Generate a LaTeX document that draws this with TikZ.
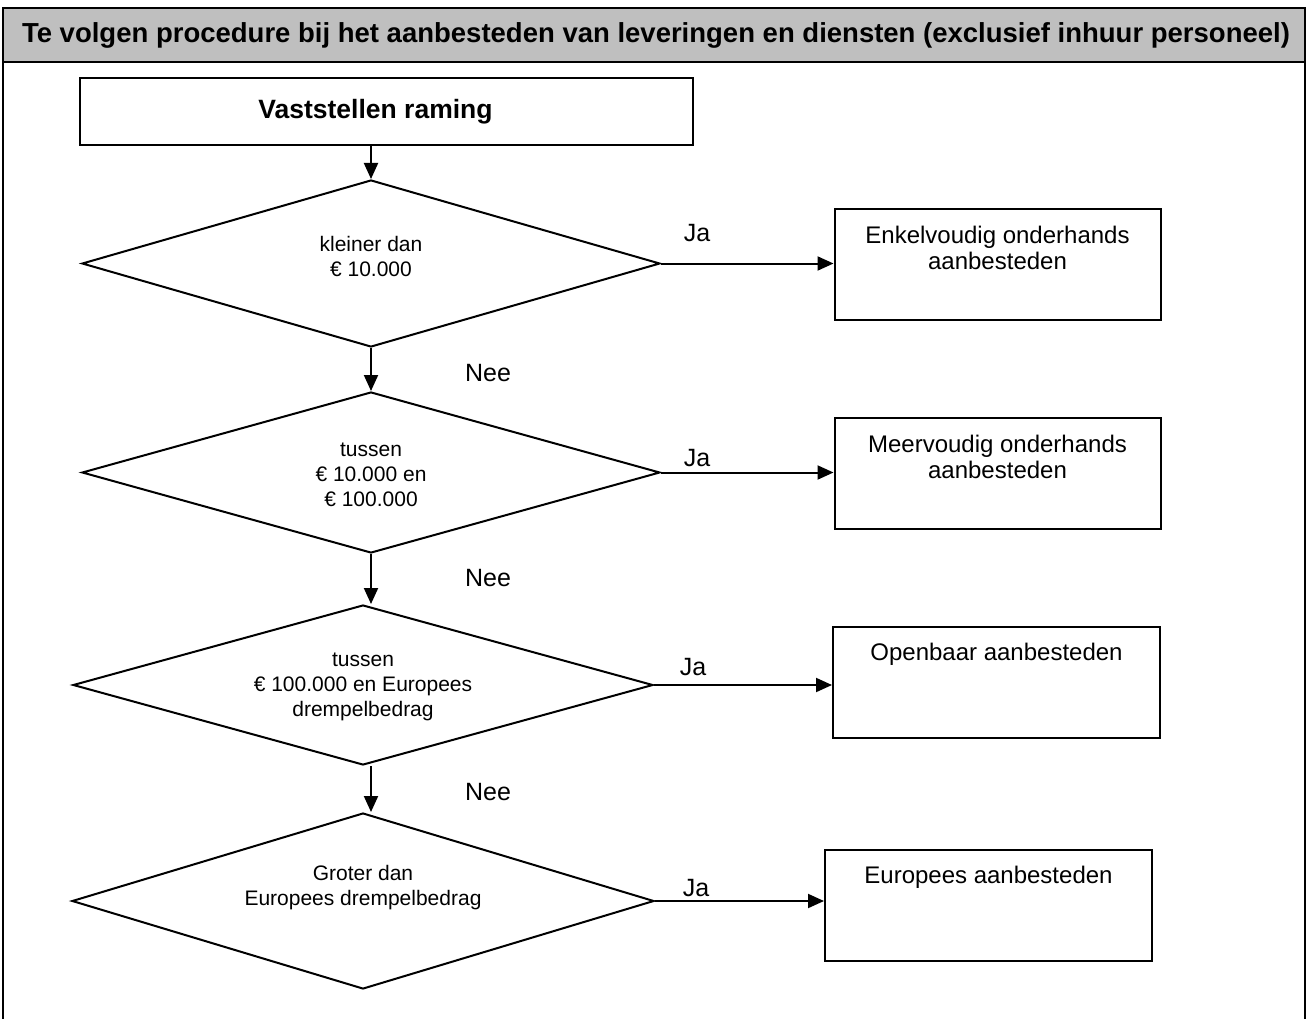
\documentclass[tikz,border=0pt]{standalone}
\usepackage{fontspec}
\setmainfont{Liberation Sans}
\usetikzlibrary{arrows.meta,positioning,shapes.geometric}

\tikzset{
  flowbox/.style={draw, line width=2pt, minimum width=326pt, minimum height=111pt, inner sep=0pt},
  decision/.style={diamond, draw, line width=2pt, inner sep=0pt, aspect=3.5,
    minimum width=578pt, minimum height=166pt},
  decisiontext/.style={align=center, inner sep=0pt, font=\fontsize{21}{25}\selectfont},
  boxtext/.style={align=center, inner sep=0pt, font=\fontsize{24}{26}\selectfont},
  answer/.style={inner sep=0pt, font=\fontsize{25}{28}\selectfont},
  flow/.style={line width=2pt, -{Triangle[length=16pt,width=14pt]}},
}

\begin{document}
\begin{tikzpicture}[x=1pt,y=-1pt]
  \useasboundingbox (0,0) rectangle (1308,1019);

  % frame and title bar
  \draw[line width=2pt] (3,8) -- (3,1019);
  \draw[line width=2pt] (1305,8) -- (1305,1019);
  \draw[line width=2pt, fill=gray!50] (3,8) rectangle (1305,62);
  \node[font=\bfseries\fontsize{27.5}{30}\selectfont] (title) at (656,35)
    {Te volgen procedure bij het aanbesteden van leveringen en diensten (exclusief inhuur personeel)};

  % start
  \node[draw, line width=2pt, minimum width=613pt, minimum height=67pt,
    font=\bfseries\fontsize{26.5}{28}\selectfont] (raming) at (386.5,111.5)
    {\hspace*{-22pt}Vaststellen raming};

  % decisions
  \node[decision, minimum height=167pt] (d1) at (371,263.5) {};
  \node[decision, minimum height=161pt] (d2) at (371,472.5) {};
  \node[decision, minimum height=160pt, minimum width=580pt] (d3) at (363,685) {};
  \node[decision, minimum height=176pt, minimum width=582pt] (d4) at (363,901) {};
  \node[decisiontext] (q1) at ([yshift=7pt]d1.center) {kleiner dan\\€ 10.000};
  \node[decisiontext] (q2) at ([yshift=-2pt]d2.center) {tussen\\€ 10.000 en\\€ 100.000};
  \node[decisiontext] (q3) at ([yshift=-2pt]d3.center) {tussen\\€ 100.000 en Europees\\drempelbedrag};
  \node[decisiontext] (q4) at ([yshift=13pt]d4.center) {Groter dan\\Europees drempelbedrag};

  % outcomes
  \node[flowbox] (b1) at (997.5,264) {};
  \node[flowbox] (b2) at (997.5,473.5) {};
  \node[flowbox, minimum width=327pt] (b3) at (996.5,682.5) {};
  \node[flowbox, minimum width=327pt] (b4) at (988.5,905.5) {};
  \node[boxtext, below=18pt] (t1) at (b1.north) {Enkelvoudig onderhands\\aanbesteden};
  \node[boxtext, below=18pt] (t2) at (b2.north) {Meervoudig onderhands\\aanbesteden};
  \node[boxtext, below=17pt] (t3) at (b3.north) {Openbaar aanbesteden};
  \node[boxtext, below=17pt] (t4) at (b4.north) {Europees aanbesteden};

  % connectors
  \draw[flow] (raming.south -| d1.north) -- (d1.north);
  \draw[flow] (d1.south) -- (d2.north);
  \draw[flow] (d2.south) -- (d2.south |- d3.north);
  \draw[flow] (d2.south |- d3.south) -- (d2.south |- d4.north);
  \draw[flow] (d1.east) -- (d1.east -| b1.west);
  \draw[flow] (d2.east) -- (d2.east -| b2.west);
  \draw[flow] (d3.east) -- (d3.east -| b3.west);
  \draw[flow] (d4.east) -- (d4.east -| b4.west);

  % labels
  \node[answer] (ja1) at (697,233) {Ja};
  \node[answer] (ja2) at (697,458) {Ja};
  \node[answer] (ja3) at (693,667) {Ja};
  \node[answer] (ja4) at (696,888) {Ja};
  \node[answer] (nee1) at (488,373) {Nee};
  \node[answer] (nee2) at (488,578) {Nee};
  \node[answer] (nee3) at (488,792) {Nee};
\end{tikzpicture}
\end{document}
